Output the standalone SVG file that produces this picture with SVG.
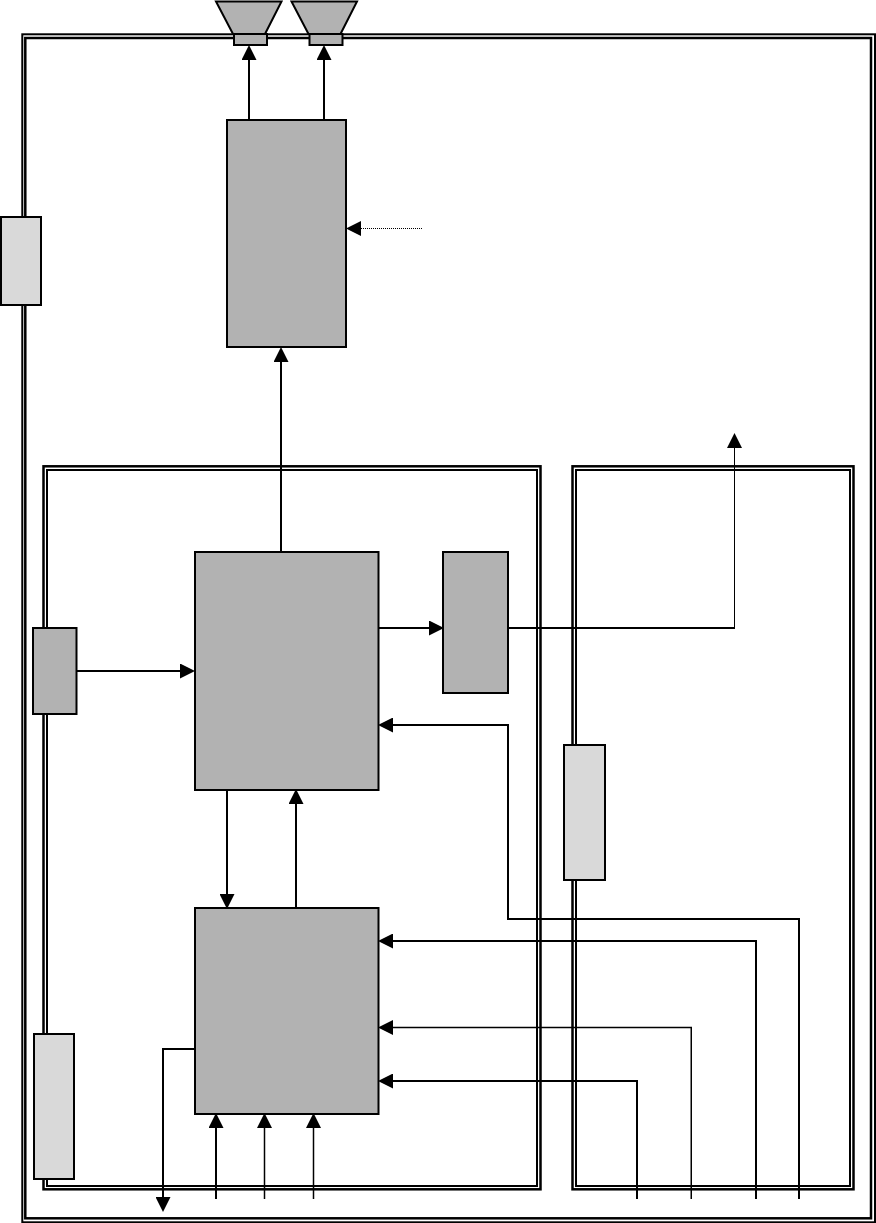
<svg xmlns="http://www.w3.org/2000/svg" width="876" height="1223" viewBox="0 0 876 1223">
<style>
.frame{fill:none;stroke:#000}
.dark{fill:#b2b2b2;stroke:#000;stroke-width:2}
.light{fill:#d9d9d9;stroke:#000;stroke-width:2}
.c{fill:none;stroke:#000;stroke-width:2;marker-end:url(#a)}
.n{fill:none;stroke:#000;stroke-width:2}
.t{stroke-width:1.500}
</style>
<defs>
<marker id="a" markerUnits="userSpaceOnUse" markerWidth="15" markerHeight="15" viewBox="0 0 15 15" refX="1" refY="7.500" orient="auto"><path d="M0 0L15 7.500L0 15z" fill="#000"/></marker>
</defs>
<rect width="876" height="1223" fill="#fff"/>
<g id="frames">
<rect id="frame-outer" class="frame" x="22.300" y="34.300" width="852.700" height="1188" stroke-width="2"/>
<rect id="frame-outer-inner" class="frame" x="25.300" y="38" width="845.700" height="1180.300" stroke-width="2.500"/>
<rect id="frame-left" class="frame" x="43.500" y="466.300" width="497" height="723" stroke-width="2.500"/>
<rect id="frame-left-inner" class="frame" x="47" y="470" width="490" height="716" stroke-width="2"/>
<rect id="frame-right" class="frame" x="572.500" y="466.300" width="281" height="723" stroke-width="2.500"/>
<rect id="frame-right-inner" class="frame" x="576" y="470" width="274" height="716" stroke-width="2"/>
</g>
<g id="connectors">
<path class="c" d="M249 120V59"/>
<path class="c" d="M324 120V59"/>
<path class="c" style="stroke-width:1" stroke-dasharray="1 1" d="M422 228.500H360"/>
<path class="c" d="M281 552V361"/>
<path class="c" d="M76 671H181"/>
<path class="c" d="M378 628H430"/>
<path class="n" d="M508 628H735"/>
<path class="c" style="stroke-width:1" d="M734.500 628V447"/>
<path class="c" d="M799 1199V919H508V725H392"/>
<path class="c" d="M756 1199V941H392"/>
<path class="c t" d="M691.250 1199V1027.500H392"/>
<path class="c" d="M637 1199V1081H392"/>
<path class="c" d="M227 790V895"/>
<path class="c" d="M296 908V803"/>
<path class="c" d="M195 1049H163V1198"/>
<path class="c" d="M216 1199V1127"/>
<path class="c t" d="M264.500 1199V1127"/>
<path class="c t" d="M313.500 1199V1127"/>
</g>
<g id="speaker-1"><path class="dark" d="M216 1.500H281.500L265 34H233z"/><rect class="dark" x="234" y="34" width="33" height="11"/></g>
<g id="speaker-2"><path class="dark" d="M291.500 1.500H357L340.500 34H308.500z"/><rect class="dark" x="309.500" y="34" width="33" height="11"/></g>
<g id="amp"><rect class="dark" x="227" y="120" width="119" height="227"/></g>
<g id="port-left"><rect class="light" x="1" y="217" width="40" height="88"/></g>
<g id="block-a"><rect class="dark" x="195" y="552" width="183.500" height="238"/></g>
<g id="block-b"><rect class="dark" x="195" y="908" width="183.500" height="206"/></g>
<g id="block-c"><rect class="dark" x="443" y="552" width="65" height="141"/></g>
<g id="block-d"><rect class="dark" x="33" y="628" width="43.500" height="86"/></g>
<g id="port-bottom"><rect class="light" x="34" y="1034" width="40" height="145"/></g>
<g id="port-right"><rect class="light" x="564" y="745" width="41" height="135"/></g>
</svg>
